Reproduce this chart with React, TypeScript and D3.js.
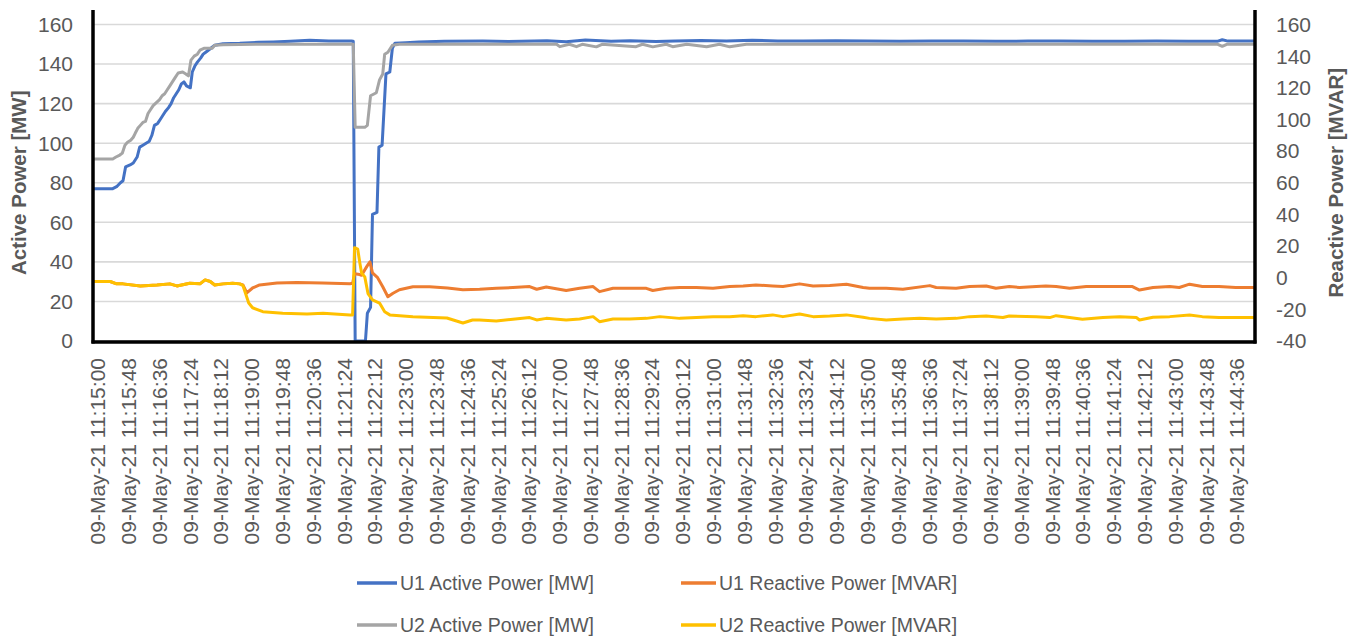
import React from "react";
import * as d3 from "d3";

// ---------- data ----------
const xTickLabels = [
  "09-May-21 11:15:00", "09-May-21 11:15:48", "09-May-21 11:16:36", "09-May-21 11:17:24",
  "09-May-21 11:18:12", "09-May-21 11:19:00", "09-May-21 11:19:48", "09-May-21 11:20:36",
  "09-May-21 11:21:24", "09-May-21 11:22:12", "09-May-21 11:23:00", "09-May-21 11:23:48",
  "09-May-21 11:24:36", "09-May-21 11:25:24", "09-May-21 11:26:12", "09-May-21 11:27:00",
  "09-May-21 11:27:48", "09-May-21 11:28:36", "09-May-21 11:29:24", "09-May-21 11:30:12",
  "09-May-21 11:31:00", "09-May-21 11:31:48", "09-May-21 11:32:36", "09-May-21 11:33:24",
  "09-May-21 11:34:12", "09-May-21 11:35:00", "09-May-21 11:35:48", "09-May-21 11:36:36",
  "09-May-21 11:37:24", "09-May-21 11:38:12", "09-May-21 11:39:00", "09-May-21 11:39:48",
  "09-May-21 11:40:36", "09-May-21 11:41:24", "09-May-21 11:42:12", "09-May-21 11:43:00",
  "09-May-21 11:43:48", "09-May-21 11:44:36",
];

const leftTicks = [0, 20, 40, 60, 80, 100, 120, 140, 160];
const rightTicks = [-40, -20, 0, 20, 40, 60, 80, 100, 120, 140, 160];

// [seconds after 11:15:00, value]
const u1Active: [number, number][] = [
  [-8, 77], [23, 77], [29, 78], [35, 80], [39, 81], [43, 88], [50, 89], [55, 90], [61, 93], [65, 98],
  [70, 99], [75, 100], [80, 101], [84, 104], [88, 109], [93, 110], [97, 112], [101, 114], [105, 116],
  [110, 118], [114, 120], [118, 123], [122, 125], [126, 127], [130, 130], [134, 131], [138, 129],
  [144, 128], [147, 136], [151, 139], [155, 141], [160, 143], [164, 145], [168, 146], [172, 147],
  [176, 148], [182, 149.5], [195, 150.3], [221, 150.5], [250, 151], [273, 151.2], [300, 151.5],
  [330, 152], [360, 151.6], [395, 151.6], [398, 151.5], [401, 0], [417, 0], [420, 14], [425, 17],
  [428, 64], [435, 65], [438, 98], [443, 99], [449, 135], [455, 136], [459, 148], [463, 150.5],
  [480, 150.8], [500, 151.2], [540, 151.5], [600, 151.6], [640, 151.4], [700, 151.8], [730, 151.3],
  [760, 152.2], [800, 151.5], [830, 151.8], [870, 151.4], [900, 151.7], [940, 151.9], [980, 151.6],
  [1020, 152], [1060, 151.7], [1100, 151.6], [1150, 151.8], [1200, 151.6], [1250, 151.5],
  [1300, 151.7], [1350, 151.6], [1400, 151.5], [1450, 151.6], [1500, 151.6], [1550, 151.5],
  [1600, 151.5], [1650, 151.6], [1700, 151.5], [1745, 151.5], [1753, 152.3], [1762, 151.6],
  [1805, 151.6],
];

const u1Reactive: [number, number][] = [
  [-8, -2.4], [19, -2.4], [29, -3.9], [39, -3.9], [66, -5.2], [92, -4.6], [112, -3.9], [123, -5.2],
  [143, -3.5], [159, -3.9], [167, -1.4], [175, -2.4], [182, -4.6], [195, -3.9], [210, -3.5],
  [221, -3.9], [226, -4.5], [232, -9.6], [241, -6.5], [252, -4.6], [279, -3.3], [310, -3],
  [350, -3.3], [393, -3.8], [397, -3.5], [400, 2.5], [408, 2], [411, 1.5], [419, 7], [424, 10],
  [428, 3], [436, 0], [444, -5.7], [452, -12], [460, -9.8], [470, -7.6], [491, -5.7], [517, -5.7],
  [545, -6.5], [569, -7.6], [595, -7.3], [621, -6.7], [647, -6.2], [673, -5.6], [684, -7.3],
  [699, -5.9], [730, -8.1], [751, -6.7], [772, -5.6], [782, -8.8], [803, -6.7], [829, -6.7],
  [855, -6.7], [865, -8.1], [886, -6.7], [907, -6.2], [933, -6.2], [959, -6.7], [985, -5.6],
  [1006, -5.2], [1026, -4.6], [1052, -5.2], [1068, -5.6], [1094, -3.9], [1115, -5.2], [1141, -5.0],
  [1167, -4.1], [1193, -6.2], [1203, -6.7], [1229, -6.7], [1255, -7.3], [1297, -5.0], [1307, -6.2],
  [1338, -6.7], [1359, -5.6], [1385, -5.2], [1400, -6.7], [1421, -5.6], [1437, -6.2], [1463, -5.6],
  [1478, -5.2], [1494, -5.6], [1515, -6.7], [1541, -5.6], [1567, -5.6], [1593, -5.6], [1613, -5.6],
  [1624, -7.8], [1645, -6.2], [1671, -5.6], [1686, -6.2], [1702, -4.1], [1722, -5.6], [1748, -5.6],
  [1774, -6.2], [1805, -6.2],
];

const u2Active: [number, number][] = [
  [-8, 92], [23, 92], [28, 93], [34, 94], [38, 95], [42, 99], [46, 100.5], [51, 101.5], [55, 103],
  [58, 105], [62, 107.5], [66, 109], [70, 110.5], [74, 111], [78, 115], [82, 117], [86, 119],
  [91, 120.5], [96, 122], [100, 124], [104, 125], [108, 127], [112, 129], [116, 131], [120, 133],
  [125, 135.5], [132, 136], [137, 135], [141, 134], [145, 142], [150, 144], [155, 145], [159, 147],
  [166, 148], [178, 148], [182, 149.5], [195, 149.8], [250, 150], [300, 150], [395, 150], [398, 150],
  [401, 108], [416, 108], [420, 109], [425, 124], [434, 125.5], [439, 132], [444, 135], [447, 145],
  [452, 146], [459, 149.5], [470, 150], [520, 150], [560, 150], [715, 150], [720, 148.8], [735, 150],
  [746, 148.8], [755, 150], [777, 148.7], [786, 150], [839, 148.8], [849, 150], [865, 148.7],
  [886, 150], [896, 148.8], [918, 150], [949, 148.8], [969, 150], [985, 148.7], [1011, 150],
  [1100, 150], [1300, 150], [1500, 150], [1746, 150], [1753, 149], [1760, 150], [1805, 150],
];

const u2Reactive: [number, number][] = [
  [-8, -2.4], [19, -2.4], [29, -3.9], [39, -3.9], [66, -5.2], [92, -4.6], [112, -3.9], [123, -5.2],
  [143, -3.5], [159, -3.9], [167, -1.4], [175, -2.4], [182, -4.6], [195, -3.9], [210, -3.5],
  [221, -3.9], [226, -5], [235, -16], [241, -19], [257, -21.5], [288, -22.5], [326, -23],
  [351, -22.5], [393, -23.5], [397, -23.5], [400, 19], [405, 18], [408, 10], [411, 3], [416, 0.5],
  [421, -10], [428, -14], [439, -16], [447, -21.5], [455, -23.5], [491, -24.6], [544, -25.5],
  [569, -28.6], [584, -26.7], [595, -26.7], [621, -27.3], [647, -26.3], [673, -25.2], [684, -26.7],
  [699, -25.7], [730, -26.7], [751, -26.1], [772, -24.6], [782, -27.8], [803, -26.1], [829, -26.1],
  [855, -25.7], [876, -24.6], [907, -25.7], [933, -25.2], [959, -24.6], [985, -24.6], [1006, -24],
  [1026, -24.6], [1052, -23.5], [1068, -24.6], [1094, -22.9], [1115, -24.6], [1141, -24.2],
  [1167, -23.5], [1193, -25], [1203, -25.7], [1229, -26.7], [1255, -26.1], [1281, -25.7],
  [1307, -26.1], [1338, -25.7], [1359, -24.6], [1385, -24.2], [1411, -25.2], [1421, -24.2],
  [1463, -24.6], [1484, -25.2], [1494, -24], [1515, -25.2], [1535, -26.3], [1567, -25.2],
  [1593, -24.6], [1619, -25.2], [1624, -26.7], [1645, -25], [1671, -24.6], [1702, -23.5],
  [1722, -24.6], [1748, -25.2], [1774, -25.2], [1805, -25.2],
];

const seriesNames = [
  "U1 Active Power [MW]",
  "U1 Reactive Power [MVAR]",
  "U2 Active Power [MW]",
  "U2 Reactive Power [MVAR]",
];
const seriesColors = ["#4472C4", "#ED7D31", "#A5A5A5", "#FFC000"];

// ---------- layout ----------
const W = 1356;
const H = 637;
const plotLeft = 93;
const plotRight = 1255;
const plotTop = 10;
const plotBottom = 342;
const FONT = "'Liberation Sans', Arial, sans-serif";
const TXT = "#595959";

function toSec(label: string): number {
  const [h, m, s] = label.split(" ")[1].split(":").map(Number);
  return (h - 11) * 3600 + (m - 15) * 60 + s;
}

export default function App() {
  const x = d3.scaleLinear().domain([0, 1776]).range([98, 1237]);
  const yL = d3.scaleLinear().domain([0, 160]).range([341, 24.5]);
  const yR = d3.scaleLinear().domain([-40, 160]).range([341, 24.5]);

  const lineL = d3
    .line<[number, number]>()
    .x((d) => x(d[0]))
    .y((d) => yL(d[1]));
  const lineR = d3
    .line<[number, number]>()
    .x((d) => x(d[0]))
    .y((d) => yR(d[1]));

  const series = [
    { data: u1Active, gen: lineL },
    { data: u1Reactive, gen: lineR },
    { data: u2Active, gen: lineL },
    { data: u2Reactive, gen: lineR },
  ];

  const legendItems = [
    { i: 0, lx: 357, tx: 400, y: 583 },
    { i: 1, lx: 681, tx: 719, y: 583 },
    { i: 2, lx: 357, tx: 400, y: 625 },
    { i: 3, lx: 681, tx: 719, y: 625 },
  ];

  return (
    <svg
      width={W}
      height={H}
      style={{ position: "absolute", left: 0, top: 0, display: "block", background: "#fff" }}
      fontFamily={FONT}
    >
      <defs>
        <clipPath id="plotClip">
          <rect x={plotLeft} y={plotTop} width={plotRight - plotLeft} height={plotBottom - plotTop} />
        </clipPath>
      </defs>
      <rect x={0} y={0} width={W} height={H} fill="#fff" />

      {/* gridlines */}
      {leftTicks.map((t) => (
        <line key={"g" + t} x1={plotLeft} x2={plotRight} y1={yL(t)} y2={yL(t)} stroke="#D9D9D9" strokeWidth={1.6} />
      ))}

      {/* series */}
      <g clipPath="url(#plotClip)">
        {series.map((s, i) => (
          <path
            key={"s" + i}
            d={s.gen(s.data) || ""}
            fill="none"
            stroke={seriesColors[i]}
            strokeWidth={3}
            strokeLinejoin="round"
            strokeLinecap="round"
          />
        ))}
      </g>

      {/* frame */}
      <line x1={plotLeft} x2={plotLeft} y1={plotTop} y2={plotBottom + 1.5} stroke="#000" strokeWidth={3.5} />
      <line x1={plotRight} x2={plotRight} y1={plotTop} y2={plotBottom + 1.5} stroke="#000" strokeWidth={3.5} />
      <line x1={plotLeft - 1.5} x2={plotRight + 1.5} y1={plotBottom} y2={plotBottom} stroke="#000" strokeWidth={3.5} />

      {/* left ticks */}
      {leftTicks.map((t) => (
        <text key={"l" + t} x={73} y={yL(t)} dy="0.35em" textAnchor="end" fontSize={21} fill={TXT}>
          {t}
        </text>
      ))}
      {/* right ticks */}
      {rightTicks.map((t) => (
        <text key={"r" + t} x={1276} y={yR(t)} dy="0.35em" textAnchor="start" fontSize={21} fill={TXT}>
          {t}
        </text>
      ))}

      {/* x tick labels */}
      {xTickLabels.map((lab) => {
        const px = x(toSec(lab));
        return (
          <text
            key={lab}
            transform={`translate(${px},358) rotate(-90)`}
            dy="0.35em"
            textAnchor="end"
            fontSize={21}
            fill={TXT}
          >
            {lab}
          </text>
        );
      })}

      {/* axis titles */}
      <text
        transform={`translate(19,${(yL(0) + yL(160)) / 2}) rotate(-90)`}
        dy="0.35em"
        textAnchor="middle"
        fontSize={20.5}
        fontWeight="bold"
        fill={TXT}
      >
        Active Power [MW]
      </text>
      <text
        transform={`translate(1336,${(yR(-40) + yR(160)) / 2}) rotate(-90)`}
        dy="0.35em"
        textAnchor="middle"
        fontSize={20.5}
        fontWeight="bold"
        fill={TXT}
      >
        Reactive Power [MVAR]
      </text>

      {/* legend */}
      {legendItems.map((it) => (
        <g key={"lg" + it.i}>
          <line x1={it.lx} x2={it.tx - 3} y1={it.y} y2={it.y} stroke={seriesColors[it.i]} strokeWidth={3.5} />
          <text x={it.tx} y={it.y} dy="0.35em" fontSize={19.5} fill={TXT}>
            {seriesNames[it.i]}
          </text>
        </g>
      ))}
    </svg>
  );
}
